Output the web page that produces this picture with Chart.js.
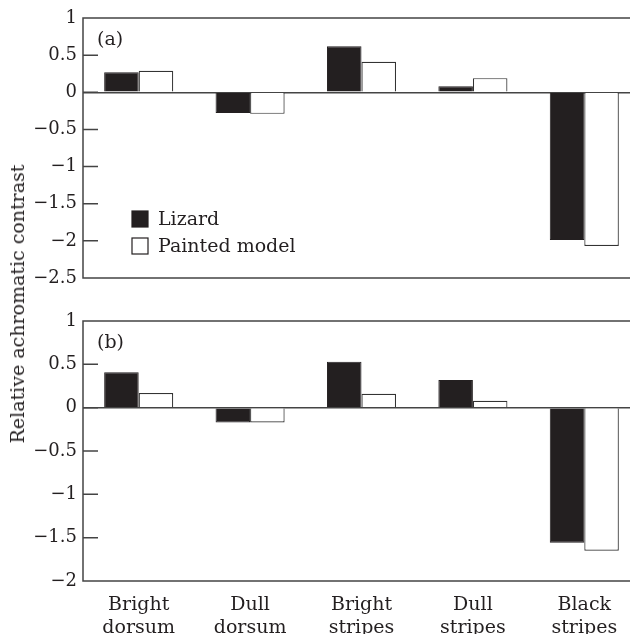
<!DOCTYPE html>
<html>
<head>
<meta charset="utf-8">
<script src="https://cdn.jsdelivr.net/npm/chart.js@4.4.0/dist/chart.umd.min.js"></script>
<style>
  html, body { margin: 0; padding: 0; background: #fff; overflow: hidden; }
  #wrap { position: relative; width: 630px; height: 634px; overflow: hidden; }
  .panel { position: absolute; left: 0; width: 640px; }
  #panelA { top: 0; height: 300px; }
  #panelB { top: 300px; height: 334px; }
  #ytitle {
    position: absolute; left: 17px; top: 304px;
    transform: translate(-50%, -50%) rotate(-90deg);
    font: 19px 'DejaVu Serif'; color: #231f20; white-space: nowrap;
  }
</style>
</head>
<body>
<div id="wrap">
  <div class="panel" id="panelA"><canvas id="chartA" width="640" height="300"></canvas></div>
  <div class="panel" id="panelB"><canvas id="chartB" width="640" height="334"></canvas></div>
  <div id="ytitle">Relative achromatic contrast</div>
</div>
<script>
// data
const categories = [['Bright', 'dorsum'], ['Dull', 'dorsum'], ['Bright', 'stripes'], ['Dull', 'stripes'], ['Black', 'stripes']];
const seriesNames = ['Lizard', 'Painted model'];
const lizardA = [0.27, -0.28, 0.62, 0.08, -1.99];
const modelA = [0.29, -0.29, 0.41, 0.19, -2.07];
const lizardB = [0.41, -0.17, 0.53, 0.32, -1.56];
const modelB = [0.17, -0.17, 0.16, 0.08, -1.65];
const yTicksA = [1, 0.5, 0, -0.5, -1, -1.5, -2, -2.5];
const yTicksB = [1, 0.5, 0, -0.5, -1, -1.5, -2];

const ink = '#231f20';
const serif = 'DejaVu Serif';

// box, inward ticks, panel letter and legend
const framePlugin = {
  id: 'frame',
  afterDatasetsDraw(chart, args, opts) {
    const { ctx, chartArea: a, scales: { y } } = chart;
    ctx.save();
    ctx.strokeStyle = '#444';
    ctx.lineWidth = 1.5;
    ctx.beginPath();
    ctx.moveTo(a.right, a.top);
    ctx.lineTo(a.left, a.top);
    ctx.lineTo(a.left, a.bottom);
    ctx.lineTo(a.right, a.bottom);
    y.ticks.forEach(t => {
      const py = y.getPixelForValue(t.value);
      ctx.moveTo(a.left, py);
      ctx.lineTo(a.left + 15, py);
    });
    ctx.stroke();

    ctx.fillStyle = ink;
    ctx.font = '19px "' + serif + '"';
    ctx.textBaseline = 'middle';
    ctx.fillText(opts.label, a.left + 14, a.top + 22);

    if (opts.legend) {
      const ds = chart.data.datasets;
      ds.forEach((d, i) => {
        const sy = a.top + 193 + i * 27;
        ctx.fillStyle = d.backgroundColor;
        ctx.fillRect(a.left + 49, sy, 16, 16);
        ctx.strokeStyle = ink;
        ctx.lineWidth = 1.2;
        ctx.strokeRect(a.left + 49, sy, 16, 16);
        ctx.fillStyle = ink;
        ctx.fillText(d.label, a.left + 75, sy + 9);
      });
    }
    ctx.restore();
  }
};

function makeChart(id, lizard, model, yTicks, label, showX, padTop, padBottom) {
  return new Chart(document.getElementById(id), {
    type: 'bar',
    data: {
      labels: categories,
      datasets: [
        { label: seriesNames[0], data: lizard, backgroundColor: ink, borderColor: ink, borderWidth: 1 },
        { label: seriesNames[1], data: model, backgroundColor: '#ffffff', borderColor: '#333', borderWidth: 1.2 }
      ]
    },
    options: {
      responsive: false,
      animation: false,
      categoryPercentage: 0.62,
      barPercentage: 1,
      layout: { padding: { top: padTop, bottom: padBottom, left: 0, right: 0 } },
      plugins: {
        legend: { display: false },
        tooltip: { enabled: false },
        frame: { label: label, legend: !showX }
      },
      scales: {
        x: {
          display: showX,
          grid: { display: false },
          border: { display: false },
          ticks: {
            color: ink,
            font: { family: serif, size: 19 },
            padding: 5,
            maxRotation: 0,
            autoSkip: false
          },
          afterFit: s => { s.height = showX ? 53 : 0; }
        },
        y: {
          min: yTicks[yTicks.length - 1],
          max: yTicks[0],
          afterBuildTicks: s => { s.ticks = yTicks.map(v => ({ value: v })); },
          afterFit: s => { s.width = 83; },
          border: { display: false },
          grid: {
            drawTicks: false,
            lineWidth: 1.5,
            color: c => c.tick && c.tick.value === 0 ? '#444' : 'rgba(0,0,0,0)'
          },
          ticks: {
            color: ink,
            padding: 6,
            font: { family: serif, size: 18 },
            callback: v => v < 0 ? '\u2212' + Math.abs(v) : String(v)
          }
        }
      }
    },
    plugins: [framePlugin]
  });
}

makeChart('chartA', lizardA, modelA, yTicksA, '(a)', false, 18, 22);
makeChart('chartB', lizardB, modelB, yTicksB, '(b)', true, 21, 0);
</script>
</body>
</html>
